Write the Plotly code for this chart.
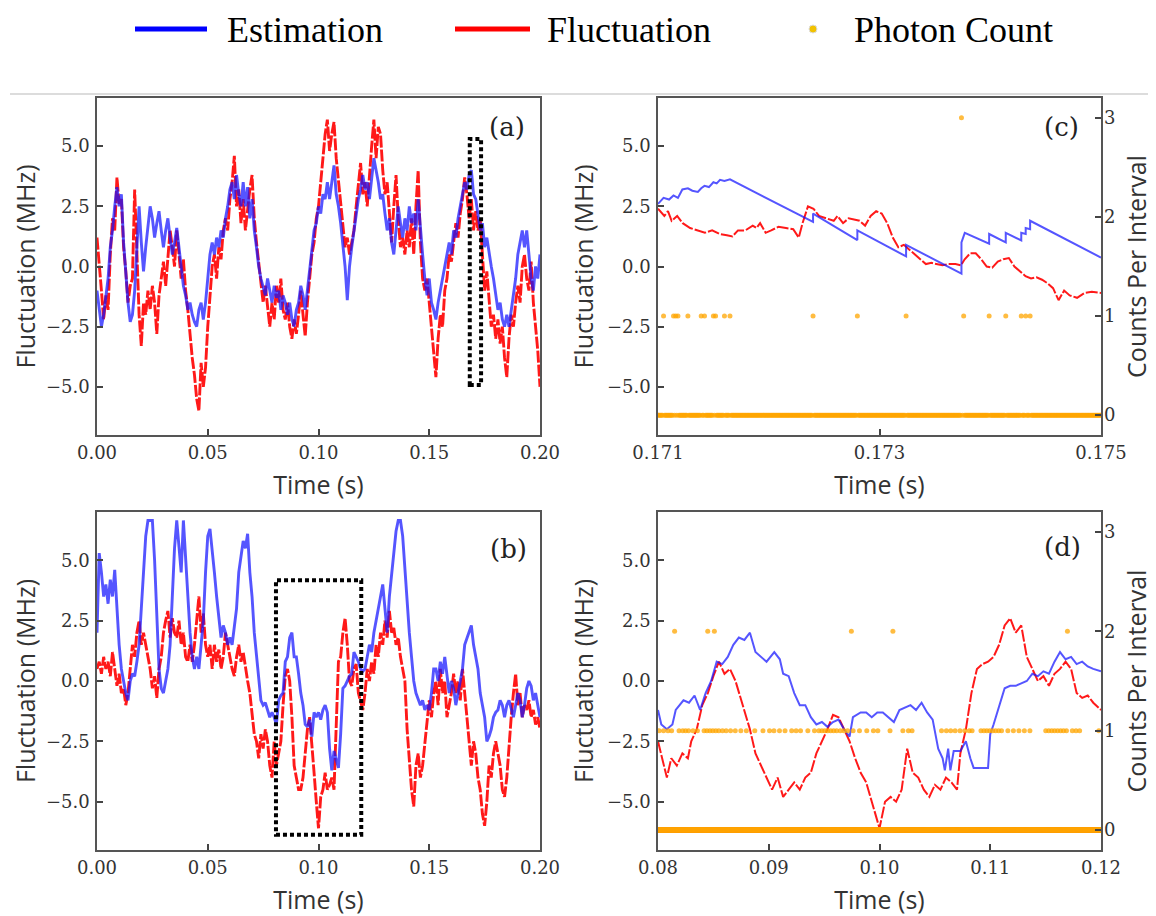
import numpy as np
import plotly.graph_objects as go

# ---------------- data ----------------
time_step_ab = 0.001          # sampling of panels (a) and (b), seconds
n_ab = 201                    # samples from 0.000 to 0.200 s

est_a = [-1.0, -1.8, -2.5, -2.0, -1.2, -0.5, 0.8, 1.5, 2.5, 3.3,
         2.5, 3.0, 1.0, -0.5, -1.5, -2.3, -2.0, -1.0, 0.5, 2.5,
         1.0, -0.2, 0.8, 1.8, 2.5, 2.0, 1.2, 1.8, 2.3, 1.5,
         0.8, 1.5, 2.0, 1.2, 0.5, 1.0, 1.6, 0.8, 0.0, -0.8,
         -1.2, -1.8, -1.5, -2.0, -2.3, -2.5, -1.8, -1.5, -2.2, -1.5,
         -0.5, 0.5, 1.0, 0.5, 1.2, 0.8, 1.5, 1.2, 2.0, 2.5,
         3.2, 3.5, 2.8, 3.8, 3.0, 2.5, 3.5, 2.5, 3.3, 2.0,
         2.8, 1.5, 0.8, 0.0, -0.5, -0.8, -1.2, -0.5, -1.0, -1.5,
         -0.8, -1.3, -1.0, -1.8, -1.2, -1.5, -2.0, -1.5, -2.2, -2.5,
         -1.8, -1.5, -0.8, -1.2, -1.8, -1.0, 0.0, 0.8, 1.5, 1.8,
         2.5, 2.2, 3.0, 2.8, 3.5, 2.8, 3.5, 4.2, 3.0, 2.5,
         1.8, 1.0, 0.0, -1.4, 0.0, 0.8, 1.5, 2.2, 2.8, 3.2,
         3.8, 3.2, 3.5, 2.8, 3.8, 4.5, 4.0, 3.5, 2.8, 3.0,
         2.2, 1.5, 2.0, 1.0, 0.5, 1.5, 2.5, 1.8, 1.2, 2.0,
         1.5, 2.5, 1.8, 2.2, 1.5, 2.8, 1.5, 0.5, -0.5, -1.2,
         -0.5, -1.5, -1.8, -2.2, -1.5, -1.0, -0.5, 0.0, 0.5, 1.0,
         0.5, 1.5, 1.2, 2.0, 2.5, 3.0, 3.5, 3.2, 3.8, 4.0,
         3.0, 2.8, 2.2, 1.5, 1.8, 0.8, 1.2, 0.5, 0.0, -0.5,
         -1.2, -1.8, -1.5, -2.2, -2.5, -2.0, -2.5, -1.8, -1.2, -0.5,
         0.5, 1.0, 1.5, 0.8, 1.5, 0.5, -0.5, -1.0, 0.0, -0.5,
         0.5]

fluc_a = [1.2, 0.2, -1.0, -2.2, -1.2, -1.8, 0.5, 2.0, 1.5, 3.7,
          2.6, 2.8, 0.8, -0.2, -1.5, -0.8, -0.5, 3.2, 0.5, -2.0,
          -3.3, -1.5, -2.0, -1.0, -1.8, -0.8, -1.5, -2.8, -1.2, -0.5,
          0.2, -0.8, 0.5, 1.5, 0.8, 0.0, 1.5, 0.5, -0.5, 0.3,
          -1.0, -1.8, -3.0, -3.8, -4.5, -5.5, -6.0, -4.0, -5.0, -4.2,
          -2.5, -1.0, 0.0, 0.5, -0.5, 0.8, 0.3, 1.5, 2.0, 1.5,
          2.8, 3.5, 4.6, 2.5, 3.2, 1.8, 2.8, 1.5, 2.5, 3.2,
          3.8, 2.0, 1.0, 0.2, -0.5, -1.5, -0.8, -1.8, -2.5, -1.5,
          -2.2, -0.8, -1.5, -0.5, -1.8, -2.2, -1.5, -2.5, -3.0, -2.2,
          -2.8, -2.0, -1.0, -2.0, -2.9, -1.5, -0.5, 0.5, 1.0, 2.0,
          2.5, 3.5, 4.5, 5.5, 6.1, 4.8, 5.5, 6.0, 4.5, 3.5,
          2.5, 1.5, 0.8, 1.2, 0.5, 1.0, 1.5, 2.5, 3.5, 4.3,
          3.0, 3.5, 2.5, 4.0, 5.0, 6.1, 4.5, 5.8, 5.5, 4.0,
          3.0, 3.5, 2.0, 1.0, 2.5, 3.8, 2.0, 0.8, 1.2, 0.5,
          1.5, 0.8, 2.0, 0.5, 2.5, 4.0, 1.0, -0.5, -1.0, -0.5,
          -1.5, -2.5, -3.5, -4.6, -3.0, -2.0, -2.5, -1.0, -0.5, 0.5,
          0.2, 1.0, 1.8, 1.2, 2.2, 2.8, 3.7, 3.0, 2.0, 2.8,
          1.5, 2.3, 1.5, 2.0, 0.2, -1.0, -0.2, -1.5, -2.5, -2.0,
          -3.0, -2.2, -3.2, -2.5, -3.8, -4.6, -3.0, -2.0, -2.5, -1.5,
          -0.8, -1.5, 0.0, 0.5, -0.5, -1.0, 0.2, -1.5, -2.5, -3.5,
          -5.0]

est_b = [2.0, 5.3, 4.5, 3.5, 4.0, 3.2, 4.2, 3.5, 4.6, 3.0,
         1.5, 0.5, 0.0, -0.5, -0.8, 0.0, 0.3, 0.2, 0.8, 1.5,
         3.0, 4.5, 6.0, 6.65, 6.65, 6.65, 5.0, 2.5, 0.5, -0.3,
         -0.5, 0.0, 0.5, 1.5, 3.5, 5.5, 6.65, 5.5, 4.5, 6.65,
         5.0, 3.5, 2.0, 1.0, 0.5, 1.0, 0.5, 1.5, 2.5, 4.5,
         6.0, 6.3, 5.5, 4.5, 3.5, 2.5, 1.8, 2.3, 2.0, 1.5,
         1.8, 1.5, 2.2, 3.0, 4.5, 5.2, 5.8, 5.5, 6.1, 4.5,
         3.5, 2.0, 1.0, 0.0, -0.8, -1.0, -0.9, -1.2, -1.5, -1.3,
         -1.5, -1.8, -0.8, -0.6, -0.5, 0.8, 1.0, 1.8, 2.0, 1.0,
         1.0, 0.3, -0.5, -1.0, -1.8, -1.9, -1.6, -2.3, -1.3, -1.5,
         -1.3, -1.6, -1.2, -1.0, -1.3, -2.8, -3.7, -2.9, -3.2, -3.6,
         -2.2, -0.3, -0.2, 0.0, 0.2, 0.3, 1.2, 1.0, 0.8, 0.5,
         0.4, 0.5, 1.0, 1.5, 1.2, 2.0, 2.5, 3.0, 3.5, 4.0,
         3.0, 2.0, 3.5, 4.5, 5.5, 6.2, 6.65, 6.65, 6.0, 4.5,
         3.0, 2.0, 1.0, 0.0, -0.5, -0.8, -1.0, -0.8, -1.2, -1.0,
         -1.2, -0.5, 0.5, 0.5, 0.0, 0.8, 0.3, 1.0, 0.2, -0.5,
         0.0, -0.3, -1.0, -0.5, 0.0, 0.5, 1.5, 1.8, 2.1, 2.3,
         1.5, 1.0, 0.5, -0.5, -1.0, -1.5, -2.5, -2.3, -2.0, -1.5,
         -1.3, -1.2, -0.8, -1.0, -1.5, -1.0, -0.8, -1.2, -1.5, -1.0,
         -0.5, -0.8, -1.5, -1.0, -0.3, 0.0, -0.2, -0.8, -0.5, -1.0,
         -1.5]

fluc_b = [0.5, 0.8, 0.3, 1.0, 0.5, 0.8, 0.2, 1.2, 0.5, -0.2,
          0.3, -0.5, -0.3, -1.0, -0.5, 0.5, 1.5, 1.0, 2.0, 2.5,
          1.5, 2.0, 1.5, 1.0, 0.5, -0.3, 0.2, -0.7, 0.5, 1.0,
          2.0, 2.5, 2.9, 1.8, 2.6, 2.0, 1.8, 2.5, 1.5, 2.0,
          1.0, 0.8, 1.5, 0.8, 1.5, 2.5, 3.5, 2.0, 2.8, 1.5,
          1.0, 1.5, 0.5, 1.5, 0.8, 1.3, 0.5, 1.0, 2.0, 1.5,
          1.0, 0.5, 0.2, 1.0, 1.5, 0.8, 1.2, 0.5, 0.0, -0.5,
          -1.5, -2.2, -2.5, -3.2, -2.2, -2.8, -2.0, -2.5, -3.5, -4.0,
          -2.5, -3.5, -3.0, -2.5, -1.0, 0.2, 0.5, 0.0, -1.5, -3.5,
          -4.0, -4.5, -4.5, -4.0, -3.0, -2.0, -1.5, -2.5, -3.8, -5.0,
          -6.1, -4.8, -4.5, -3.8, -4.5, -4.3, -4.0, -4.5, -1.5, 0.8,
          1.0, 2.0, 2.6, 1.5, 0.0, -0.2, 0.5, 0.7, -0.5, -0.8,
          -1.2, -0.5, 0.5, 0.0, 0.8, 0.3, 1.5, 1.0, 2.0, 1.5,
          2.5, 1.8, 2.9, 2.0, 2.2, 1.5, 1.8, 1.0, 0.5, 0.0,
          -2.0, -3.5, -4.5, -5.2, -3.5, -3.0, -4.0, -3.5, -2.5, -1.5,
          -0.8, -1.5, -0.5, 0.0, -1.0, 0.5, -0.5, 0.0, -1.5, -1.0,
          -0.5, 0.3, -0.5, 0.0, -0.8, 0.5, -0.5, -1.5, -2.5, -3.5,
          -2.5, -3.0, -4.0, -4.5, -5.5, -6.0, -5.0, -3.5, -4.0, -3.0,
          -2.5, -3.0, -3.5, -4.5, -4.8, -4.0, -2.5, -1.5, -0.5, 0.3,
          -1.0, -0.5, -1.5, -1.0, -1.2, -0.8, -1.5, -1.2, -1.8, -1.5,
          -2.0]

# panel (c): zoom 0.171 - 0.175 s
est_c_t = [0.17100, 0.17105, 0.17110, 0.17114, 0.17118, 0.17122, 0.17127, 0.17131,
           0.17136, 0.17139, 0.17142, 0.17146, 0.17150, 0.17153, 0.17156, 0.17160,
           0.17165, 0.17240, 0.17240, 0.17280, 0.17280, 0.17324, 0.17324, 0.17374,
           0.17374, 0.17377, 0.17399, 0.17399, 0.17414, 0.17414, 0.17428, 0.17428,
           0.17432, 0.17432, 0.17436, 0.17436, 0.17500]
est_c = [2.60, 2.85, 2.78, 2.95, 2.85, 3.20, 3.25, 3.15,
         3.10, 3.25, 3.35, 3.30, 3.50, 3.45, 3.60, 3.55,
         3.62, 1.85, 2.20, 1.10, 1.50, 0.42, 0.90, -0.30,
         1.00, 1.40, 0.95, 1.35, 1.00, 1.40, 1.08, 1.40,
         1.35, 1.60, 1.55, 1.90, 0.37]

fluc_c_t = [0.171000, 0.171057, 0.171090, 0.171123, 0.171173, 0.171223, 0.171290, 0.171356,
            0.171423, 0.171489, 0.171556, 0.171622, 0.171672, 0.171722, 0.171789, 0.171855,
            0.171889, 0.171922, 0.171972, 0.172022, 0.172088, 0.172155, 0.172221, 0.172271,
            0.172305, 0.172354, 0.172404, 0.172454, 0.172521, 0.172587, 0.172621, 0.172671,
            0.172721, 0.172770, 0.172820, 0.172870, 0.172920, 0.172970, 0.173020, 0.173070,
            0.173120, 0.173170, 0.173220, 0.173270, 0.173320, 0.173369, 0.173419, 0.173469,
            0.173519, 0.173569, 0.173619, 0.173686, 0.173735, 0.173769, 0.173819, 0.173869,
            0.173919, 0.173968, 0.174018, 0.174068, 0.174118, 0.174168, 0.174218, 0.174268,
            0.174318, 0.174368, 0.174418, 0.174468, 0.174518, 0.174567, 0.174617, 0.174667,
            0.174717, 0.174784, 0.174850, 0.174917, 0.175000]
fluc_c = [2.40, 2.10, 2.30, 1.90, 2.10, 1.80, 1.60, 1.50,
          1.40, 1.50, 1.35, 1.30, 1.25, 1.50, 1.50, 1.70,
          1.60, 1.80, 1.40, 1.50, 1.65, 1.60, 1.55, 1.20,
          1.80, 2.50, 2.40, 2.10, 2.00, 1.90, 2.10, 1.80,
          2.00, 1.95, 1.90, 1.70, 2.10, 2.30, 2.20, 1.80,
          1.20, 0.80, 0.90, 0.70, 0.50, 0.30, 0.10, 0.15,
          0.10, 0.05, 0.10, 0.10, 0.05, 0.30, 0.55, 0.55,
          0.30, 0.00, -0.05, 0.20, 0.30, 0.35, 0.00, -0.20,
          -0.40, -0.50, -0.45, -0.55, -0.70, -0.90, -1.40, -1.00,
          -1.20, -1.30, -1.10, -1.05, -1.10]

# panel (d): zoom 0.08 - 0.12 s
est_d_t = [0.0800, 0.0803, 0.0808, 0.0813, 0.0816, 0.0823, 0.0828, 0.0833, 0.0838, 0.0843,
           0.0848, 0.0853, 0.0858, 0.0863, 0.0868, 0.0873, 0.0878, 0.0883, 0.0888, 0.0893,
           0.0898, 0.0905, 0.0910, 0.0913, 0.0918, 0.0923, 0.0928, 0.0933, 0.0938, 0.0943,
           0.0948, 0.0953, 0.0958, 0.0963, 0.0968, 0.0973, 0.0976, 0.0983, 0.0988, 0.0993,
           0.0998, 0.1003, 0.1008, 0.1013, 0.1018, 0.1023, 0.1028, 0.1033, 0.1038, 0.1043,
           0.1048, 0.1053, 0.1057, 0.1059, 0.1062, 0.1064, 0.1067, 0.1073, 0.1078, 0.1082,
           0.1085, 0.1098, 0.1100, 0.1103, 0.1108, 0.1113, 0.1118, 0.1123, 0.1128, 0.1133,
           0.1138, 0.1143, 0.1148, 0.1153, 0.1158, 0.1163, 0.1168, 0.1173, 0.1178, 0.1183,
           0.1188, 0.1193, 0.1200]
est_d = [-1.2, -1.8, -2.0, -1.8, -1.2, -0.8, -0.9, -0.6, -1.2, -0.5,
         0.0, 0.8, 0.7, 1.0, 1.5, 1.8, 1.7, 2.0, 1.2, 1.0,
         0.8, 1.2, 0.9, 0.3, 0.2, -0.5, -1.0, -1.0, -1.5, -1.8,
         -1.7, -1.9, -1.7, -1.6, -2.0, -2.3, -1.5, -1.3, -1.3, -1.5,
         -1.3, -1.3, -1.5, -1.7, -1.2, -1.1, -1.0, -1.2, -0.9, -1.3,
         -1.6, -2.8, -3.2, -3.7, -2.8, -3.7, -2.9, -2.9, -2.5, -3.2,
         -3.6, -3.6, -2.2, -1.8, -1.0, -0.3, -0.2, -0.2, -0.1, 0.0,
         0.3, 0.2, 0.4, 0.3, 0.8, 1.2, 0.9, 1.0, 0.7, 0.8,
         0.6, 0.5, 0.4]

fluc_d_t = [0.0800, 0.0805, 0.0808, 0.0812, 0.0817, 0.0822, 0.0827, 0.0830, 0.0835, 0.0840,
            0.0845, 0.0850, 0.0855, 0.0860, 0.0865, 0.0870, 0.0875, 0.0880, 0.0883, 0.0888,
            0.0893, 0.0898, 0.0903, 0.0908, 0.0913, 0.0918, 0.0923, 0.0928, 0.0933, 0.0938,
            0.0943, 0.0948, 0.0953, 0.0958, 0.0963, 0.0968, 0.0973, 0.0978, 0.0983, 0.0988,
            0.0993, 0.0998, 0.1000, 0.1005, 0.1010, 0.1015, 0.1020, 0.1025, 0.1030, 0.1035,
            0.1040, 0.1045, 0.1050, 0.1055, 0.1060, 0.1065, 0.1070, 0.1073, 0.1078, 0.1083,
            0.1088, 0.1093, 0.1098, 0.1103, 0.1108, 0.1113, 0.1118, 0.1123, 0.1128, 0.1133,
            0.1138, 0.1143, 0.1148, 0.1153, 0.1158, 0.1163, 0.1168, 0.1173, 0.1178, 0.1183,
            0.1188, 0.1193, 0.1200]
fluc_d = [-2.5, -3.5, -4.0, -3.2, -3.5, -3.0, -3.2, -2.5, -2.0, -1.0,
          -0.5, 0.2, 0.8, 0.3, 0.5, 0.0, -0.8, -1.5, -2.0, -3.0,
          -3.5, -4.0, -4.5, -4.0, -4.8, -4.5, -4.2, -4.5, -4.0, -3.8,
          -3.0, -2.5, -2.0, -1.4, -1.5, -2.0, -2.5, -3.2, -3.8, -4.2,
          -5.0, -5.8, -6.1, -5.0, -4.8, -5.0, -4.5, -2.8, -3.8, -4.0,
          -4.5, -4.8, -4.3, -4.5, -4.0, -4.2, -4.5, -3.0, -2.0, -0.5,
          0.5, 0.7, 0.8, 1.0, 1.5, 2.3, 2.6, 2.0, 2.3, 1.0,
          0.5, 0.0, 0.2, -0.2, 0.3, 0.5, 0.8, 0.5, -0.5, -0.7,
          -0.6, -0.9, -1.2]

# photon counts: counting interval and the times of non-zero counts
count_interval = 1e-5
photon_c_window = [0.171, 0.175]
photon_c_one = [0.17105, 0.17114, 0.17116, 0.17118, 0.17127, 0.17139, 0.17142, 0.17150,
                0.17152, 0.17160, 0.17165, 0.17240, 0.17280, 0.17324, 0.17376, 0.17399,
                0.17414, 0.17428, 0.17432, 0.17436]
photon_c_three = [0.17374]

photon_d_window = [0.08, 0.12]
photon_d_one = [0.08010, 0.08050, 0.08090, 0.08123, 0.08190, 0.08223, 0.08249, 0.08276,
                0.08316, 0.08356, 0.08416, 0.08442, 0.08469, 0.08495, 0.08522, 0.08549,
                0.08582, 0.08615, 0.08655, 0.08698, 0.08748, 0.08798, 0.08874, 0.08948,
                0.09007, 0.09047, 0.09097, 0.09147, 0.09207, 0.09247, 0.09287, 0.09353,
                0.09413, 0.09453, 0.09480, 0.09506, 0.09533, 0.09559, 0.09586, 0.09613,
                0.09646, 0.09679, 0.09712, 0.09762, 0.09819, 0.09885, 0.09945, 0.09985,
                0.10095, 0.10211, 0.10261, 0.10294, 0.10560, 0.10604, 0.10643, 0.10683,
                0.10727, 0.10770, 0.10810, 0.10836, 0.10916, 0.10943, 0.10969, 0.10996,
                0.11022, 0.11049, 0.11076, 0.11102, 0.11159, 0.11209, 0.11259, 0.11308,
                0.11358, 0.11501, 0.11528, 0.11555, 0.11581, 0.11608, 0.11635, 0.11661,
                0.11688, 0.11741, 0.11774, 0.11807, 0.11980]
photon_d_two = [0.08150, 0.08449, 0.08509, 0.09746, 0.10121, 0.11697]

# zoom windows marked in (a) and (b)
box_a_x = [0.1683, 0.1734]
box_a_y = [-4.92, 5.30]
box_b_x = [0.0808, 0.1193]
box_b_y = [-6.37, 4.17]

panel_labels = ["(a)", "(c)", "(b)", "(d)"]
legend_labels = ["Estimation", "Fluctuation", "Photon Count"]

# ---------------- helpers ----------------
t_ab = np.arange(n_ab) * time_step_ab


def count_series(window, events):
    n = int(round((window[1] - window[0]) / count_interval)) + 1
    t = window[0] + np.arange(n) * count_interval
    c = np.zeros(n)
    for value, times in events:
        for ti in times:
            c[int(round((ti - window[0]) / count_interval))] = value
    return t, c


t_pc, c_pc = count_series(photon_c_window, [(1, photon_c_one), (3, photon_c_three)])
t_pd, c_pd = count_series(photon_d_window, [(1, photon_d_one), (2, photon_d_two)])

BLUE = "rgba(20,20,255,0.72)"
RED = "rgba(255,0,0,0.9)"
ORANGE = "rgba(255,165,0,0.75)"
RED_DASH = "12px,2px"

# page geometry: the page body has an 8px margin, so figure px = screen px - 8
W, H, OFF = 1148, 908, 8


def px(x):
    return (x - OFF) / W


def py(y):
    return 1 - (y - OFF) / H


fig = go.Figure()


def add_pair(t_f, f, t_e, e, xa, ya, w):
    fig.add_trace(go.Scatter(x=t_f, y=f, mode="lines", xaxis=xa, yaxis=ya, showlegend=False,
                             line=dict(color=RED, width=w, dash=RED_DASH)))
    fig.add_trace(go.Scatter(x=t_e, y=e, mode="lines", xaxis=xa, yaxis=ya, showlegend=False,
                             line=dict(color=BLUE, width=w)))


add_pair(t_ab, fluc_a, t_ab, est_a, "x", "y", 2.9)
add_pair(fluc_c_t, fluc_c, est_c_t, est_c, "x2", "y2", 2.0)
fig.add_trace(go.Scatter(x=t_pc, y=c_pc, mode="markers", xaxis="x2", yaxis="y3", showlegend=False,
                         marker=dict(color=ORANGE, size=5, line=dict(width=0))))
add_pair(t_ab, fluc_b, t_ab, est_b, "x3", "y4", 2.9)
add_pair(fluc_d_t, fluc_d, est_d_t, est_d, "x4", "y5", 2.0)
fig.add_trace(go.Scatter(x=t_pd, y=c_pd, mode="markers", xaxis="x4", yaxis="y6", showlegend=False,
                         marker=dict(color=ORANGE, size=5, line=dict(width=0))))

TICKFONT = dict(family="DejaVu Serif", size=18, color="#333333")
TITLEFONT = dict(family="Open Sans", size=25, color="#333333")
LINE = dict(showline=True, linecolor="#555555", linewidth=1.5, ticks="inside", ticklen=6,
            tickwidth=1.5, tickcolor="#444444", showgrid=False, zeroline=False,
            tickfont=TICKFONT, automargin=False)

XL = [px(97), px(540)]
XR = [px(658), px(1101)]
YT = [py(435), py(98)]
YB = [py(850), py(512)]


def xax(domain, anchor, rng, vals, fmt):
    return dict(LINE, domain=domain, anchor=anchor, range=rng, tickvals=vals, tickformat=fmt,
                mirror=True, ticklabelstandoff=1,
                title=dict(text="Time (s)", font=TITLEFONT, standoff=14))


def yax(domain, anchor):
    return dict(LINE, domain=domain, anchor=anchor, range=[-7, 7],
                tickvals=[-5, -2.5, 0, 2.5, 5], tickformat=".1f", mirror=True,
                ticklabelstandoff=2,
                title=dict(text="Fluctuation (MHz)", font=TITLEFONT, standoff=6))


def y2ax(over, anchor):
    return dict(LINE, overlaying=over, anchor=anchor, side="right", range=[-0.2, 3.2],
                tickvals=[0, 1, 2, 3], showline=False, ticklabelstandoff=2,
                title=dict(text="Counts Per Interval", font=TITLEFONT, standoff=14))


ab_ticks = [0.0, 0.05, 0.10, 0.15, 0.20]
fig.update_layout(
    width=W, height=H, margin=dict(l=0, r=0, t=0, b=0),
    paper_bgcolor="white", plot_bgcolor="white", showlegend=False,
    xaxis=xax(XL, "y", [0, 0.2], ab_ticks, ".2f"),
    yaxis=yax(YT, "x"),
    xaxis2=xax(XR, "y2", [0.171, 0.175], [0.171, 0.173, 0.175], ".3f"),
    yaxis2=yax(YT, "x2"),
    yaxis3=y2ax("y2", "x2"),
    xaxis3=xax(XL, "y4", [0, 0.2], ab_ticks, ".2f"),
    yaxis4=yax(YB, "x3"),
    xaxis4=xax(XR, "y5", [0.08, 0.12], [0.08, 0.09, 0.10, 0.11, 0.12], ".2f"),
    yaxis5=yax(YB, "x4"),
    yaxis6=y2ax("y5", "x4"),
)

# dashed zoom boxes
box_line = dict(color="black", width=4, dash="4px,3px")
fig.add_shape(type="rect", xref="x", yref="y", x0=box_a_x[0], x1=box_a_x[1],
              y0=box_a_y[0], y1=box_a_y[1], line=box_line)
fig.add_shape(type="rect", xref="x3", yref="y4", x0=box_b_x[0], x1=box_b_x[1],
              y0=box_b_y[0], y1=box_b_y[1], line=box_line)

# panel labels
label_pos = [("x", "y", 0.925, 0.914), ("x2", "y2", 0.910, 0.914),
             ("x3", "y4", 0.930, 0.891), ("x4", "y5", 0.914, 0.895)]
for lab, (xr, yr, lx, ly_) in zip(panel_labels, label_pos):
    fig.add_annotation(text=lab, xref=xr + " domain", yref=yr + " domain", x=lx, y=ly_,
                       xanchor="center", yanchor="middle", showarrow=False,
                       font=dict(family="DejaVu Serif", size=26, color="#222"))

# separator line under the legend
fig.add_shape(type="line", xref="paper", yref="paper", x0=px(10), x1=1.0, y0=py(94), y1=py(94),
              line=dict(color="#d0d0d0", width=1.5))

# legend (drawn manually to match layout); text kept fully inside the page
LEGFONT = dict(family="Liberation Serif", size=36, color="black")
leg_y = 29
fig.add_shape(type="line", xref="paper", yref="paper", x0=px(135), x1=px(207), y0=py(leg_y), y1=py(leg_y),
              line=dict(color="#0000ff", width=5))
fig.add_shape(type="line", xref="paper", yref="paper", x0=px(455), x1=px(530), y0=py(leg_y), y1=py(leg_y),
              line=dict(color="#ff0000", width=5))
fig.add_shape(type="circle", xref="paper", yref="paper", x0=px(809), x1=px(817),
              y0=py(leg_y + 4), y1=py(leg_y - 4), fillcolor="#f2c200", line=dict(color="#dddddd", width=1))
for txt, x in zip(legend_labels, [225, 545, 852]):
    fig.add_annotation(text=txt, xref="paper", yref="paper", x=px(x), y=1.0,
                       xanchor="left", yanchor="top", showarrow=False, font=LEGFONT)

fig.write_html("out.html")
